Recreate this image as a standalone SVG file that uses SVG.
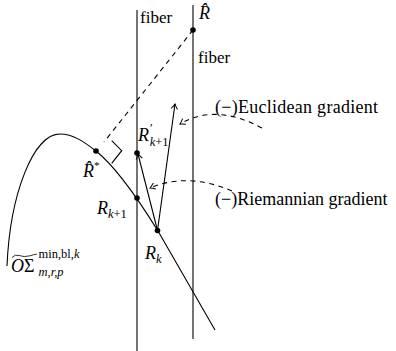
<svg xmlns="http://www.w3.org/2000/svg" width="396" height="351" viewBox="0 0 396 351">
<style>
.ln{fill:none;stroke:#000;stroke-width:1.1}
.dsh{fill:none;stroke:#000;stroke-width:1.1;stroke-dasharray:5,4.5}
.dot{fill:#000}
text{font-family:"Liberation Serif","Times New Roman",serif;fill:#000}
.lbl{font-size:18px}
.fib{font-size:17px}
.it{font-style:italic}
.sm{font-size:12.5px}
</style>
<defs>
<marker id="ah" viewBox="-6 -4 7 8" markerWidth="7" markerHeight="8" refX="0" refY="0" orient="auto" markerUnits="userSpaceOnUse">
<path d="M-5,-3.2 Q-1.5,-0.6 0,0 Q-1.5,0.6 -5,3.2" fill="none" stroke="#000" stroke-width="1" stroke-dasharray="none"/>
</marker>
</defs>

<g id="fiber-left">
<line class="ln" x1="137" y1="10" x2="137" y2="351"/>
<text class="fib" x="140" y="23">fiber</text>
</g>
<g id="fiber-right">
<line class="ln" x1="193" y1="5" x2="193" y2="339"/>
<text class="fib" x="198" y="63">fiber</text>
</g>

<g id="manifold">
<path class="ln" d="M7,266 C10,195 33,134 60,134 C75,134 88,145 96,151 C116,167 140,202 158,231 L215,330"/>
<g id="manifold-label">
<path d="M12,257.5 Q15,254 19,255.5 Q24,257.5 30,255.8 Q34,254.5 37,254" fill="none" stroke="#000" stroke-width="0.8"/>
<text class="lbl" x="11" y="272"><tspan class="it">O</tspan>Σ</text>
<text class="sm" x="38.5" y="258">min,bl,<tspan class="it">k</tspan></text>
<text class="sm it" x="38.5" y="276">m,r,p</text>
</g>
</g>

<g id="R-hat">
<circle class="dot" cx="193" cy="30" r="2.8"/>
<text class="lbl it" x="199" y="19">R̂</text>
</g>

<g id="R-hat-star">
<circle class="dot" cx="96" cy="151" r="2.8"/>
<text class="lbl it" x="83" y="177">R̂<tspan font-size="11" font-style="normal" dy="-8">*</tspan></text>
<path class="ln" d="M111.7,140.7 L121.7,150.7 L111.7,163.3"/>
</g>

<g id="R-k1-prime">
<circle class="dot" cx="137" cy="153" r="2.8"/>
<text class="lbl it" x="138" y="141">R<tspan class="sm" font-style="normal" dx="1" dy="-9">′</tspan><tspan class="sm" dx="-3" dy="14">k</tspan><tspan class="sm" font-style="normal">+1</tspan></text>
</g>

<g id="R-k1">
<circle class="dot" cx="137" cy="198" r="2.8"/>
<text class="lbl it" x="97" y="214">R<tspan class="sm" dy="4">k</tspan><tspan class="sm" font-style="normal">+1</tspan></text>
</g>

<g id="R-k">
<circle class="dot" cx="157.5" cy="230.5" r="2.8"/>
<text class="lbl it" x="145" y="259">R<tspan class="sm" dy="4">k</tspan></text>
</g>

<g id="label-euclid">
<text class="lbl" x="215" y="113" textLength="163">(−)Euclidean gradient</text>
</g>
<g id="label-riem">
<text class="lbl" x="215" y="205">(−)Riemannian gradient</text>
</g>

<g id="connectors">
<line class="dsh" x1="193" y1="30" x2="104" y2="142"/>
<line class="ln" x1="157.5" y1="230.5" x2="175" y2="104" marker-end="url(#ah)"/>
<line class="ln" x1="157.5" y1="230.5" x2="138" y2="154" marker-end="url(#ah)"/>
<path class="dsh" d="M262,128 Q215,103 180,124" marker-end="url(#ah)"/>
<path class="dsh" d="M232,191 Q188,172 150,188" marker-end="url(#ah)"/>
</g>
</svg>
